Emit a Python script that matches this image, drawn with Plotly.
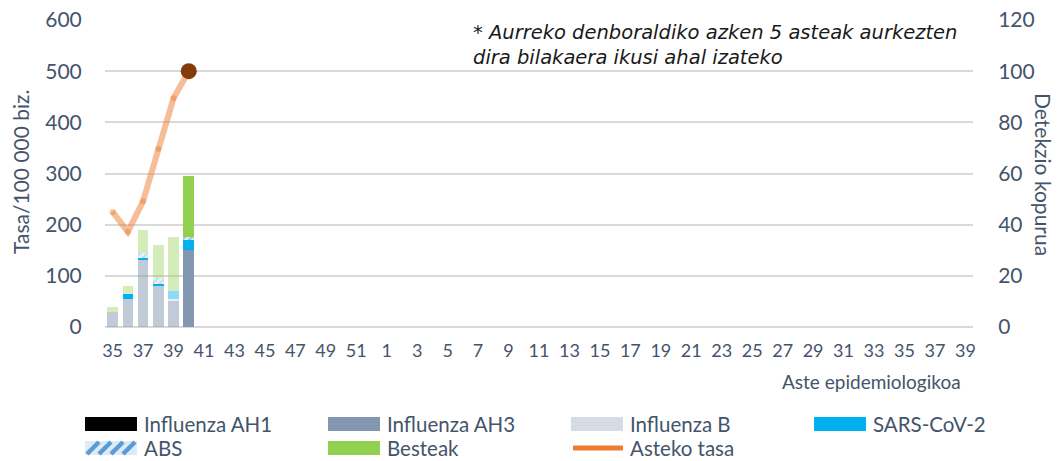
import plotly.graph_objects as go

# ---------------- data ----------------
weeks = list(range(35, 53)) + list(range(1, 40))          # epidemiological weeks shown on axis
tick_weeks = weeks[::2]

data_weeks = [35, 36, 37, 38, 39, 40]
influenza_ah1 = [0, 0, 0, 0, 0, 0]
influenza_ah3 = [6, 11, 26, 16, 10, 30]
influenza_b = [0, 0, 0, 0, 1, 0]
sars_cov_2 = [0, 2, 1, 1, 3, 4]
abs_vals = [0, 0, 2, 2, 0, 1]
besteak = [2, 3, 9, 13, 21, 24]
asteko_tasa = [225, 186, 246, 348, 447, 500]               # rate per 100 000
previous_season = [True, True, True, True, True, False]   # last 5 weeks of previous season

# ---------------- style ----------------
TEXT = "#44546a"
FONT = "Lato"
GRID = "#d9d9d9"
C_AH1 = "#000000"
C_AH3 = "#8497b0"
C_B = "#d6dce5"
C_SARS = "#00b0f0"
C_ABS_BG = "#deebf7"
C_ABS_FG = "#5b9bd5"
C_BEST = "#92d050"
C_LINE = "#ed7d31"
C_DOT = "#843c0c"

idx = [weeks.index(w) for w in data_weeks]
x_all = list(range(len(weeks)))


def fade(alpha, flags=previous_season):
    return [alpha if f else 1.0 for f in flags]


fig = go.Figure()


def add_bar(name, vals, color, opac, pattern=None):
    marker = dict(color=color, opacity=opac, line=dict(width=0))
    if pattern:
        marker["pattern"] = pattern
    fig.add_trace(go.Bar(x=idx, y=vals, name=name, marker=marker,
                         yaxis="y", showlegend=False))


add_bar("Influenza AH1", influenza_ah1, C_AH1, fade(0.5))
add_bar("Influenza AH3", influenza_ah3, C_AH3, fade(0.5))
add_bar("Influenza B", influenza_b, C_B, fade(0.5))
add_bar("SARS-CoV-2", sars_cov_2, C_SARS, [1, 1, 1, 1, 0.45, 1])
add_bar("ABS", abs_vals, C_ABS_BG, fade(0.6),
        pattern=dict(shape="/", fgcolor=C_ABS_FG, bgcolor=C_ABS_BG, size=5, solidity=0.45))
add_bar("Besteak", besteak, C_BEST, fade(0.4))

# previous-season rate line (faded), continues to the first current week
fig.add_trace(go.Scatter(x=idx, y=asteko_tasa, mode="lines+markers", yaxis="y2",
                         line=dict(color="rgba(237,125,49,0.5)", width=6),
                         marker=dict(color="rgba(237,125,49,0.45)", size=6),
                         showlegend=False, name="Asteko tasa (aurreko)"))
# current season rate
cur_x = [i for i, f in zip(idx, previous_season) if not f]
cur_y = [v for v, f in zip(asteko_tasa, previous_season) if not f]
fig.add_trace(go.Scatter(x=cur_x, y=cur_y, mode="lines+markers", yaxis="y2",
                         line=dict(color=C_LINE, width=4),
                         marker=dict(color=C_DOT, size=16),
                         showlegend=False, name="Asteko tasa"))

# ---------------- layout ----------------
L, R, T, B = 105, 973, 20, 327
W, H = 1057, 461


def px(xp):
    return (xp - L) / (R - L)


def py(yp):
    return (B - yp) / (B - T)


fig.update_layout(
    width=W, height=H,
    margin=dict(l=L, r=W - R, t=T, b=H - B),
    paper_bgcolor="white", plot_bgcolor="white",
    barmode="stack", bargap=0.3,
    font=dict(family=FONT, color=TEXT),
    showlegend=False,
    xaxis=dict(range=[-0.5, len(weeks) - 0.5], tickmode="array",
               tickvals=x_all[::2], ticktext=[str(w) for w in tick_weeks],
               tickfont=dict(size=18, color=TEXT), showgrid=False, zeroline=False,
               showline=False, ticks="outside", ticklen=7, tickcolor="rgba(0,0,0,0)",
               automargin=False),
    yaxis=dict(side="right", range=[0, 120], dtick=20, showgrid=True,
               gridcolor=GRID, gridwidth=1.5, zeroline=True, zerolinecolor=GRID,
               zerolinewidth=1.5, tickfont=dict(size=21, color=TEXT),
               ticks="outside", ticklen=20, tickcolor="rgba(0,0,0,0)", showline=False,
               automargin=False),
    yaxis2=dict(side="left", overlaying="y", range=[0, 600], dtick=100, showgrid=False,
                zeroline=False, tickfont=dict(size=21, color=TEXT),
                ticks="outside", ticklen=18, tickcolor="rgba(0,0,0,0)", showline=False,
                automargin=False),
)

annotations = [
    dict(text="Tasa/100 000 biz.", x=px(20), y=py(172), textangle=-90,
         xanchor="center", yanchor="middle", font=dict(size=21, color=TEXT)),
    dict(text="Detekzio kopurua", x=px(1044), y=py(174), textangle=90,
         xanchor="center", yanchor="middle", font=dict(size=21, color=TEXT)),
    dict(text="Aste epidemiologikoa", x=px(963), y=py(381), xanchor="right",
         yanchor="middle", font=dict(size=19, color=TEXT)),
    dict(text="* Aurreko denboraldiko azken 5 asteak aurkezten<br>dira bilakaera ikusi ahal izateko",
         x=px(471), y=py(19), xanchor="left", yanchor="top", align="left",
         font=dict(size=19.5, color="#1a1a1a", family="DejaVu Sans", style="italic")),
]

shapes = []
leg_cols = [85, 328, 571, 814]
leg_rows = [424, 448]
sw_w, sw_h = 52, 14
legend_items = [
    ("Influenza AH1", "rect", C_AH1),
    ("Influenza AH3", "rect", C_AH3),
    ("Influenza B", "rect", C_B),
    ("SARS-CoV-2", "rect", C_SARS),
    ("ABS", "abs", None),
    ("Besteak", "rect", C_BEST),
    ("Asteko tasa", "line", C_LINE),
]
for k, (label, kind, color) in enumerate(legend_items):
    x0 = leg_cols[k % 4]
    yc = leg_rows[k // 4]
    if kind == "rect":
        shapes.append(dict(type="rect", xref="paper", yref="paper",
                           x0=px(x0), x1=px(x0 + sw_w), y0=py(yc + sw_h / 2), y1=py(yc - sw_h / 2),
                           fillcolor=color, line=dict(width=0)))
    elif kind == "abs":
        shapes.append(dict(type="rect", xref="paper", yref="paper",
                           x0=px(x0), x1=px(x0 + sw_w), y0=py(yc + sw_h / 2), y1=py(yc - sw_h / 2),
                           fillcolor=C_ABS_BG, line=dict(width=0)))
        for s in range(0, 40, 12):
            shapes.append(dict(type="line", xref="paper", yref="paper",
                               x0=px(x0 + s + 2), x1=px(x0 + s + 2 + sw_h - 2),
                               y0=py(yc + sw_h / 2 - 1), y1=py(yc - sw_h / 2 + 1),
                               line=dict(color=C_ABS_FG, width=4.5)))
    else:
        shapes.append(dict(type="line", xref="paper", yref="paper",
                           x0=px(x0 + 2), x1=px(x0 + sw_w), y0=py(yc), y1=py(yc),
                           line=dict(color=color, width=5)))
    annotations.append(dict(text=label, x=px(x0 + sw_w + 5), y=py(yc), xanchor="left",
                            yanchor="middle", font=dict(size=20.5, color=TEXT)))

for a in annotations:
    a.setdefault("xref", "paper")
    a.setdefault("yref", "paper")
    a.setdefault("showarrow", False)

fig.update_layout(annotations=annotations, shapes=shapes)

fig.write_html("out.html", config={"displayModeBar": False},
               post_script="document.body.style.margin='0';document.body.style.overflow='hidden';")
